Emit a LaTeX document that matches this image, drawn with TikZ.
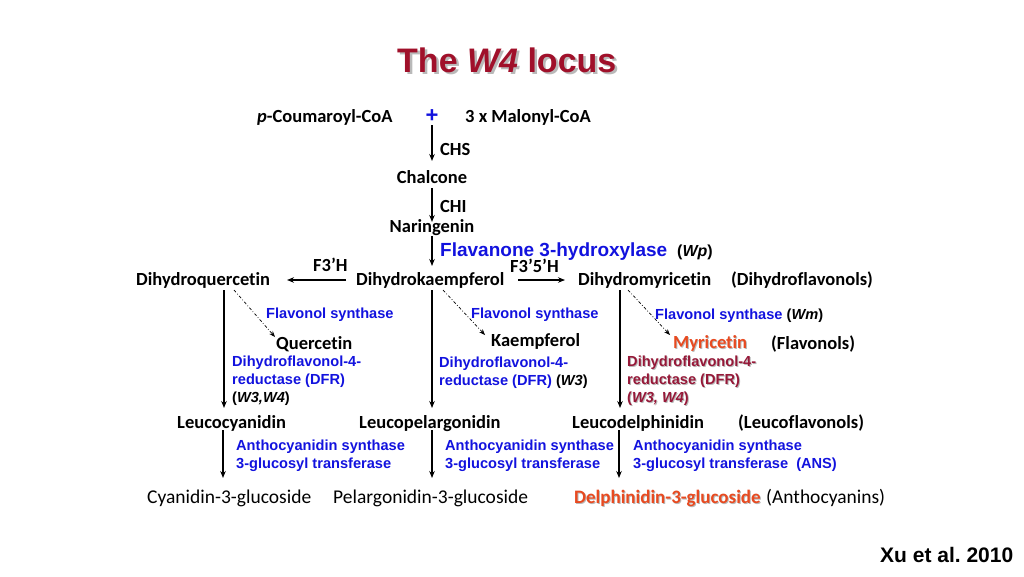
\documentclass[tikz,border=0pt]{standalone}
\usepackage{fontspec}
\setmainfont{Carlito}[Ligatures=NoCommon]
\newfontfamily\arialf{Liberation Sans}
\usetikzlibrary{arrows.meta,calc}
\definecolor{ttl}{RGB}{160,16,42}
\definecolor{blu}{RGB}{18,18,222}
\definecolor{dred}{RGB}{150,24,56}
\definecolor{ored}{RGB}{232,74,32}
\definecolor{shd}{RGB}{185,185,185}
\frenchspacing
\begin{document}
\begin{tikzpicture}[x=1pt,y=-1pt,
  lbl/.style={inner sep=0pt, anchor=base west, font=\fontsize{18.5}{22}\selectfont\bfseries},
  lblr/.style={inner sep=0pt, anchor=base west, font=\fontsize{19.5}{22}\selectfont},
  enz/.style={inner sep=0pt, anchor=base west, font=\arialf\fontsize{14.6}{18}\selectfont\bfseries, text=blu, align=left},
  arr/.style={-{Stealth[length=7pt,width=5.5pt]}, line width=1.3pt},
  darr/.style={-{Stealth[length=6pt,width=4.5pt]}, line width=0.7pt, dash pattern=on 3pt off 2pt on 0.8pt off 2pt}
]
\useasboundingbox (0,0) rectangle (1024,576);
% title with shadow
\node[inner sep=0pt, anchor=base west, font=\arialf\bfseries\fontsize{34}{40}\selectfont, text=shd] (titlesh) at (399.5,74.5) {The \textit{W4} locus};
\node[inner sep=0pt, anchor=base west, font=\arialf\bfseries\fontsize{34}{40}\selectfont, text=ttl] (title) at (397,72) {The \textit{W4} locus};
% top
\node[lbl] (coa) at (257,122) {\textit{p}-Coumaroyl-CoA};
\node[inner sep=0pt, font=\arialf\bfseries\fontsize{22}{24}\selectfont, text=blu] (plus) at (432,116) {+};
\node[lbl] (mal) at (465,122) {3 x Malonyl-CoA};
\node[lbl] (chs) at (440,155) {CHS};
\node[lbl, anchor=base] (ch) at (432,183) {Chalcone};
\node[lbl] (chi) at (440,212) {CHI};
\node[lbl, anchor=base] (na) at (432,232) {Naringenin};
\node[enz, font=\arialf\fontsize{19}{22}\selectfont\bfseries] (f3h) at (440,256) {Flavanone 3-hydroxylase};
\node[inner sep=0pt, anchor=base west, font=\arialf\fontsize{16}{20}\selectfont\bfseries] (wp) at (677,256) {(\textit{Wp})};
\node[lbl] (f3ph) at (313,271) {F3’H};
\node[lbl] (f35h) at (510,272) {F3’5’H};
% dihydroflavonols
\node[lbl] (dq) at (136,285) {Dihydroquercetin};
\node[lbl] (dk) at (356,285) {Dihydrokaempferol};
\node[lbl] (dm) at (578,285) {Dihydromyricetin};
\node[lbl] (dfl) at (731,285) {(Dihydroflavonols)};
% flavonol synthase
\node[enz] (fs1) at (266,318) {Flavonol synthase};
\node[enz] (fs2) at (471,318) {Flavonol synthase};
\node[enz] (fs3) at (655,319) {Flavonol synthase \textcolor{black}{(\textit{Wm})}};
% flavonols
\node[lbl] (qu) at (276,349) {Quercetin};
\node[lbl] (ka) at (491,346) {Kaempferol};
\node[lbl, text=shd] (mysh) at (674,349) {Myricetin};
\node[lbl, text=ored] (my) at (673,348) {Myricetin};
\node[lbl] (fl) at (771,349) {(Flavonols)};
% DFR (base anchor = last line)
\node[enz] (dfr1) at (232,402) {Dihydroflavonol-4-\\reductase (DFR)\\\textcolor{black}{(\textit{W3,W4})}};
\node[enz] (dfr2) at (439,385) {Dihydroflavonol-4-\\reductase (DFR) \textcolor{black}{(\textit{W3})}};
\node[enz, text=shd] (dfr3sh) at (628,403) {Dihydroflavonol-4-\\reductase (DFR)\\(\textit{W3, W4})};
\node[enz, text=dred] (dfr3) at (627,402) {Dihydroflavonol-4-\\reductase (DFR)\\(\textit{W3, W4})};
% leuco
\node[lbl] (lc) at (177,428) {Leucocyanidin};
\node[lbl] (lp) at (359,428) {Leucopelargonidin};
\node[lbl] (ld) at (572,428) {Leucodelphinidin};
\node[lbl] (lfl) at (738,428) {(Leucoflavonols)};
% ANS
\node[enz] (ans1) at (236,468) {Anthocyanidin synthase\\3-glucosyl transferase};
\node[enz] (ans2) at (445,468) {Anthocyanidin synthase\\3-glucosyl transferase};
\node[enz] (ans3) at (633,468) {Anthocyanidin synthase\\3-glucosyl transferase\ \ (ANS)};
% anthocyanins
\node[lblr] (cg) at (147,503) {Cyanidin-3-glucoside};
\node[lblr] (pg) at (333,503) {Pelargonidin-3-glucoside};
\node[lblr, font=\fontsize{19}{22}\selectfont\bfseries, text=shd] (dgsh) at (575,504) {Delphinidin-3-glucoside};
\node[lblr, font=\fontsize{19}{22}\selectfont\bfseries, text=ored] (dg) at (574,503) {Delphinidin-3-glucoside};
\node[lblr] (acy) at (766,503) {(Anthocyanins)};
\node[inner sep=0pt, anchor=base west, font=\arialf\bfseries\fontsize{21}{24}\selectfont] (xu) at (880,562) {Xu et al. 2010};
% arrows
\draw[arr] ($(plus.center)+(0,9)$) -- ($(ch.base)+(0,-22)$);
\draw[arr] ($(ch.base)+(0,5)$) -- ($(na.base)+(0,-10)$);
\draw[arr] ($(na.base)+(0,4)$) -- ($(dk.base west)+(76,-19)$);
\draw[arr] ($(dk.base west)+(-10,-5)$) -- ($(dq.base west)+(151,-5)$);
\draw[arr] ($(dk.base west)+(162,-5)$) -- ($(dm.base west)+(-13,-5)$);
\draw[arr] ($(dq.base west)+(88,5)$) -- ($(lc.base west)+(47,-20)$);
\draw[arr] ($(dk.base west)+(76,5)$) -- ($(lp.base west)+(73,-20)$);
\draw[arr] ($(dm.base west)+(42,5)$) -- ($(ld.base west)+(48,-20)$);
\draw[arr] ($(lc.base west)+(46,2)$) -- ($(cg.base west)+(76,-25)$);
\draw[arr] ($(lp.base west)+(73,2)$) -- ($(pg.base west)+(99,-25)$);
\draw[arr] ($(ld.base west)+(47,2)$) -- ($(dg.base west)+(45,-25)$);
\draw[darr] ($(dq.base west)+(98,5)$) -- ($(qu.base west)+(-1,-12)$);
\draw[darr] ($(dk.base west)+(87,5)$) -- ($(ka.base west)+(-6,-11)$);
\draw[darr] ($(dm.base west)+(50,5)$) -- ($(my.base west)+(-3,-13)$);
\end{tikzpicture}
\end{document}
